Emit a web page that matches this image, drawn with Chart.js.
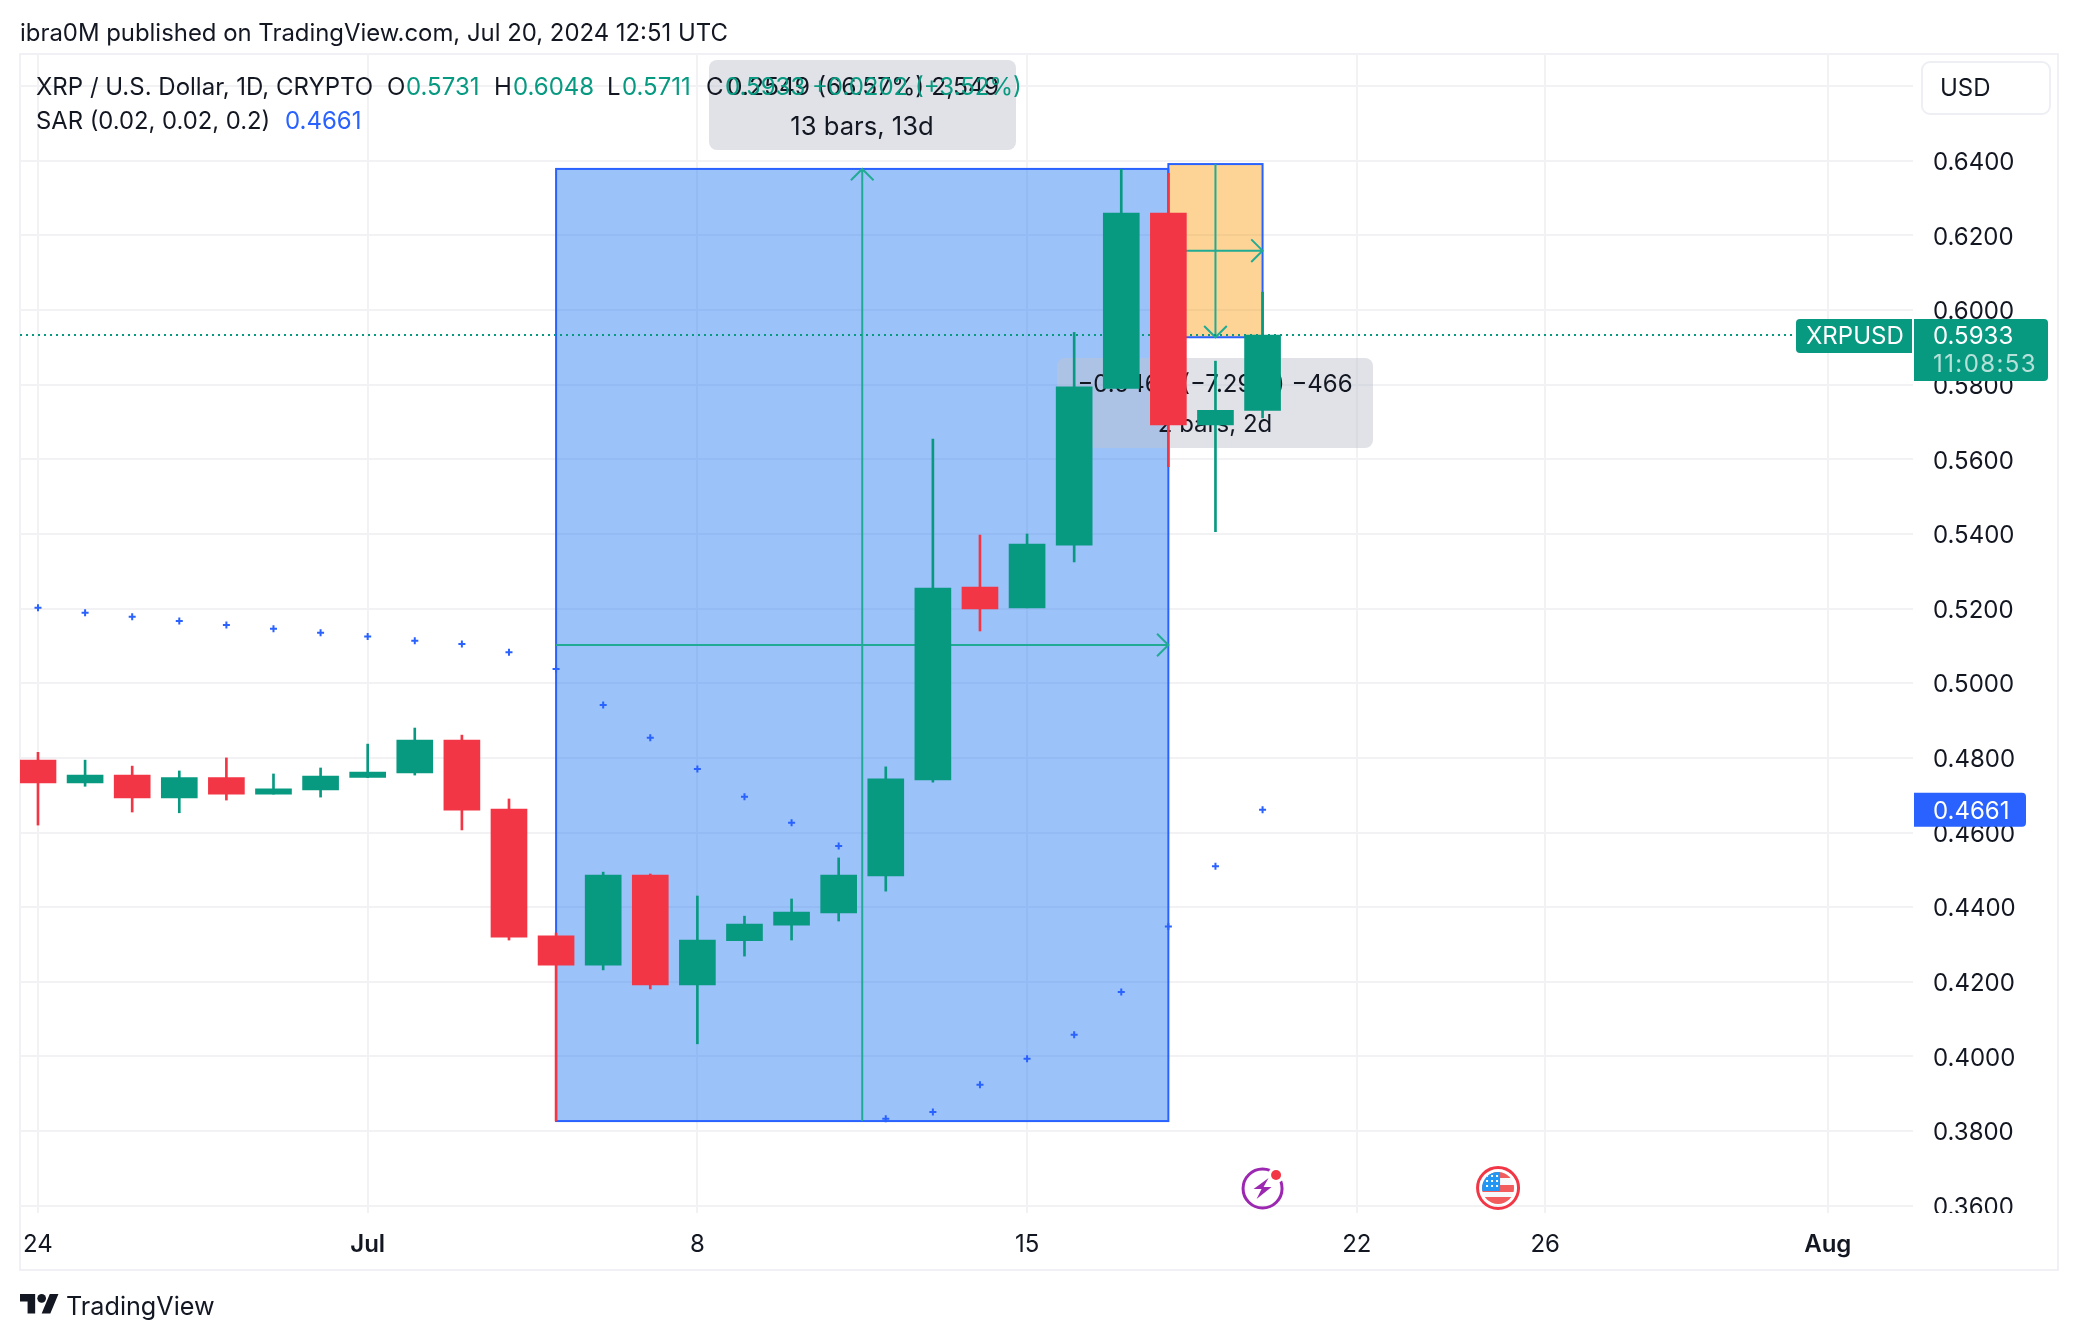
<!DOCTYPE html>
<html>
<head>
<meta charset="utf-8">
<title>XRPUSD</title>
<script src="https://cdn.jsdelivr.net/npm/chart.js@4"></script>
<style>
    html, body { margin: 0; padding: 0; background: #ffffff; }
    #wrap { width: 2078px; height: 1340px; position: relative; }
</style>
</head>
<body>
<div id="wrap"><canvas id="chart"></canvas></div>
<script>
// Дни от 24 июня (0) до 20 июля (26)
const days = [0, 1, 2, 3, 4, 5, 6, 7, 8, 9, 10, 11, 12, 13, 14, 15, 16, 17, 18, 19, 20, 21, 22, 23, 24, 25, 26];
const opens = [0.4794, 0.4733, 0.4754, 0.4693, 0.4747, 0.4703, 0.4714, 0.4748, 0.4760, 0.4848, 0.4663, 0.4323, 0.4245, 0.4486, 0.4192, 0.4310, 0.4352, 0.4385, 0.4484, 0.4741, 0.5258, 0.5202, 0.5370, 0.5790, 0.6260, 0.5692, 0.5731];
const highs = [0.4815, 0.4794, 0.4778, 0.4765, 0.4800, 0.4757, 0.4773, 0.4837, 0.4880, 0.4861, 0.4690, 0.4331, 0.4494, 0.4489, 0.4430, 0.4376, 0.4422, 0.4532, 0.4776, 0.5654, 0.5397, 0.5400, 0.5940, 0.6377, 0.6366, 0.5863, 0.6048];
const lows = [0.4620, 0.4724, 0.4655, 0.4653, 0.4687, 0.4703, 0.4695, 0.4747, 0.4754, 0.4607, 0.4312, 0.3827, 0.4232, 0.4181, 0.4034, 0.4269, 0.4312, 0.4363, 0.4443, 0.4735, 0.5140, 0.5202, 0.5325, 0.5790, 0.5580, 0.5406, 0.5711];
const closes = [0.4733, 0.4754, 0.4693, 0.4747, 0.4703, 0.4717, 0.4751, 0.4762, 0.4848, 0.4660, 0.4320, 0.4245, 0.4486, 0.4192, 0.4312, 0.4355, 0.4387, 0.4486, 0.4744, 0.5255, 0.5199, 0.5373, 0.5794, 0.6260, 0.5692, 0.5731, 0.5933];
const sarValues = [0.5202, 0.5189, 0.5178, 0.5167, 0.5156, 0.5146, 0.5135, 0.5125, 0.5114, 0.5105, 0.5083, 0.5038, 0.4942, 0.4854, 0.4770, 0.4696, 0.4626, 0.4564, 0.3833, 0.3851, 0.3924, 0.3994, 0.4058, 0.4173, 0.4348, 0.4510, 0.4661];

const priceTicks = [0.36, 0.38, 0.40, 0.42, 0.44, 0.46, 0.48, 0.50, 0.52, 0.54, 0.56, 0.58, 0.60, 0.62, 0.64, 0.66];
const dayTicks = [0, 7, 14, 21, 28, 32, 38];
const dayTickLabels = ["24", "Jul", "8", "15", "22", "26", "Aug"];

// Диапазоны: [день начала, день конца, цена низа, цена верха]
const blueRange = [11, 24, 0.3827, 0.6378];
const orangeRange = [24, 26, 0.5927, 0.6391];
const lastPrice = 0.5933;
const lastSar = 0.4661;
const eventDays = [26, 31];

const GREEN = "#089981";
const RED = "#F23645";
const BLUE = "#2962FF";
const TEAL = "#22AB94";
const INK = "#131722";
const GRID = "#F2F2F5";
const FONT = "Inter, 'Noto Sans', sans-serif";

function drawText(ctx, str, x, y, color, size, align) {
    ctx.fillStyle = color;
    ctx.font = size + "px " + FONT;
    ctx.textAlign = align || "left";
    ctx.textBaseline = "middle";
    ctx.fillText(str, x, y + 2);
}

function roundBox(ctx, x, y, w, h, r, fill, stroke) {
    ctx.beginPath();
    ctx.roundRect(x, y, w, h, r);
    if (fill) {
        ctx.fillStyle = fill;
        ctx.fill();
    }
    if (stroke) {
        ctx.strokeStyle = stroke;
        ctx.lineWidth = 2;
        ctx.stroke();
    }
}

function arrow(ctx, x1, y1, x2, y2) {
    const a = Math.atan2(y2 - y1, x2 - x1);
    const h = 16;
    ctx.strokeStyle = TEAL;
    ctx.lineWidth = 2;
    ctx.beginPath();
    ctx.moveTo(x1, y1);
    ctx.lineTo(x2, y2);
    ctx.moveTo(x2 - h * Math.cos(a - Math.PI / 4), y2 - h * Math.sin(a - Math.PI / 4));
    ctx.lineTo(x2, y2);
    ctx.lineTo(x2 - h * Math.cos(a + Math.PI / 4), y2 - h * Math.sin(a + Math.PI / 4));
    ctx.stroke();
}

function drawRange(ctx, range, fill, scales) {
    const x1 = scales.x.getPixelForValue(range[0]);
    const x2 = scales.x.getPixelForValue(range[1]);
    const y1 = scales.y.getPixelForValue(range[3]);
    const y2 = scales.y.getPixelForValue(range[2]);
    ctx.fillStyle = fill;
    ctx.fillRect(x1, y1, x2 - x1, y2 - y1);
    ctx.strokeStyle = BLUE;
    ctx.lineWidth = 2;
    ctx.strokeRect(x1, y1, x2 - x1, y2 - y1);
    return { x1, x2, y1, y2 };
}

// Рисуем всё, что лежит под свечами: рамку, диапазоны, подписи диапазонов
const underlayPlugin = {
    id: "underlay",
    beforeDraw(chart) {
        const ctx = chart.ctx;
        ctx.save();
        ctx.fillStyle = "#ffffff";
        ctx.fillRect(0, 0, 2078, 1340);
        ctx.strokeStyle = "#F0F0F5";
        ctx.lineWidth = 2;
        ctx.strokeRect(20, 54, 2038, 1216);
        ctx.restore();
    },
    beforeDatasetsDraw(chart) {
        const ctx = chart.ctx;
        const scales = chart.scales;
        ctx.save();

        // нижняя метка шкалы обрезана панелью времени
        ctx.fillStyle = "#ffffff";
        ctx.fillRect(1914, 1213, 136, 12);

        const b = drawRange(ctx, blueRange, "rgba(35, 119, 244, 0.45)", scales);
        arrow(ctx, (b.x1 + b.x2) / 2, b.y2, (b.x1 + b.x2) / 2, b.y1);
        arrow(ctx, b.x1, (b.y1 + b.y2) / 2, b.x2, (b.y1 + b.y2) / 2);

        const o = drawRange(ctx, orangeRange, "rgba(251, 152, 5, 0.42)", scales);
        arrow(ctx, (o.x1 + o.x2) / 2, o.y1, (o.x1 + o.x2) / 2, o.y2);
        arrow(ctx, o.x1, (o.y1 + o.y2) / 2, o.x2, (o.y1 + o.y2) / 2);

        roundBox(ctx, 709, 60, 307, 90, 8, "rgba(191, 196, 208, 0.485)");
        roundBox(ctx, 1057, 358, 316, 90, 8, "rgba(191, 196, 208, 0.485)");
        drawText(ctx, "0.2549 (66.57%) 2,549", 863, 86, INK, 24.6, "center");
        drawText(ctx, "13 bars, 13d", 862, 125, INK, 25.6, "center");
        drawText(ctx, "\u22120.0466 (\u22127.29%) \u2212466", 1215, 383, INK, 24, "center");
        drawText(ctx, "2 bars, 2d", 1215, 423, INK, 24, "center");

        // пунктир текущей цены
        const py = scales.y.getPixelForValue(lastPrice);
        ctx.strokeStyle = GREEN;
        ctx.lineWidth = 2;
        ctx.setLineDash([2, 4]);
        ctx.beginPath();
        ctx.moveTo(20, py);
        ctx.lineTo(1794, py);
        ctx.stroke();
        ctx.restore();
    },
    afterDatasetsDraw(chart) {
        const ctx = chart.ctx;
        const scales = chart.scales;
        ctx.save();

        drawText(ctx, "ibra0M published on TradingView.com, Jul 20, 2024 12:51 UTC", 20, 32, INK, 23.9);

        // легенда
        drawText(ctx, "XRP / U.S. Dollar, 1D, CRYPTO", 36, 86, INK, 24);
        drawText(ctx, "O", 387, 86, INK, 24);
        drawText(ctx, opens[26].toFixed(4), 406, 86, GREEN, 24);
        drawText(ctx, "H", 494, 86, INK, 24);
        drawText(ctx, highs[26].toFixed(4), 513, 86, GREEN, 24);
        drawText(ctx, "L", 607, 86, INK, 24);
        drawText(ctx, lows[26].toFixed(4), 622, 86, GREEN, 24);
        drawText(ctx, "C", 706, 86, INK, 24);
        drawText(ctx, closes[26].toFixed(4) + " +0.0202 (+3.52%)", 725, 86, GREEN, 24);
        drawText(ctx, "SAR (0.02, 0.02, 0.2)", 36, 120, INK, 23.8);
        drawText(ctx, lastSar.toFixed(4), 285, 120, BLUE, 24);

        // кнопка валюты
        roundBox(ctx, 1922, 62, 128, 52, 8, "#ffffff", "#EEEFF4");
        drawText(ctx, "USD", 1940, 87, INK, 24);

        // метки на шкале цены
        const py = scales.y.getPixelForValue(lastPrice);
        roundBox(ctx, 1796, py - 16, 116, 34, [4, 0, 0, 4], GREEN);
        drawText(ctx, "XRPUSD", 1806, py, "#ffffff", 24);
        roundBox(ctx, 1914, py - 16, 134, 62, [0, 4, 4, 0], GREEN);
        drawText(ctx, lastPrice.toFixed(4), 1933, py, "#ffffff", 24);
        ctx.letterSpacing = "1.4px";
        drawText(ctx, "11:08:53", 1933, py + 28, "rgba(255, 255, 255, 0.7)", 24);
        ctx.letterSpacing = "0px";

        const sy = scales.y.getPixelForValue(lastSar);
        roundBox(ctx, 1914, sy - 17, 112, 34, [0, 4, 4, 0], BLUE);
        drawText(ctx, lastSar.toFixed(4), 1933, sy, "#ffffff", 24);

        // значки событий
        const ex1 = scales.x.getPixelForValue(eventDays[0]);
        ctx.strokeStyle = "#9C27B0";
        ctx.lineWidth = 3;
        ctx.beginPath();
        ctx.arc(ex1, 1188.5, 19.5, 0, Math.PI * 2);
        ctx.stroke();
        ctx.fillStyle = "#ffffff";
        ctx.beginPath();
        ctx.arc(ex1 + 13.5, 1175, 8, 0, Math.PI * 2);
        ctx.fill();
        ctx.fillStyle = RED;
        ctx.beginPath();
        ctx.arc(ex1 + 13.5, 1175, 5, 0, Math.PI * 2);
        ctx.fill();
        ctx.fillStyle = "#9C27B0";
        ctx.beginPath();
        ctx.moveTo(ex1 + 6, 1178);
        ctx.lineTo(ex1 - 9, 1189);
        ctx.lineTo(ex1 - 1, 1189);
        ctx.lineTo(ex1 - 6, 1199);
        ctx.lineTo(ex1 + 9, 1187);
        ctx.lineTo(ex1 + 1, 1187);
        ctx.closePath();
        ctx.fill();

        const ex2 = scales.x.getPixelForValue(eventDays[1]);
        ctx.strokeStyle = RED;
        ctx.lineWidth = 3;
        ctx.beginPath();
        ctx.arc(ex2, 1188, 20.5, 0, Math.PI * 2);
        ctx.stroke();
        ctx.save();
        ctx.beginPath();
        ctx.arc(ex2, 1188, 16, 0, Math.PI * 2);
        ctx.clip();
        ctx.fillStyle = "#F7F8FA";
        ctx.fillRect(ex2 - 17, 1171, 34, 34);
        ctx.fillStyle = "#F25C5C";
        ctx.fillRect(ex2 - 17, 1172, 34, 6);
        ctx.fillRect(ex2 - 17, 1185, 34, 7);
        ctx.fillRect(ex2 - 17, 1197, 34, 8);
        ctx.fillStyle = "#2196F3";
        ctx.fillRect(ex2 - 17, 1171, 19, 20);
        ctx.fillStyle = "#ffffff";
        for (let i = 0; i < 3; i++) {
            for (let j = 0; j < 3; j++) {
                ctx.fillRect(ex2 - 12 + i * 5, 1175 + j * 5, 2, 2);
            }
        }
        ctx.restore();

        // подпись TradingView
        const logo = new Path2D("M14 22H7V11H0V4h14v18zM28 22h-8l7.5-18h8L28 22z");
        ctx.save();
        ctx.translate(20, 1289.7);
        ctx.scale(1.083, 1.083);
        ctx.fillStyle = INK;
        ctx.fill(logo);
        ctx.beginPath();
        ctx.arc(20, 8, 4, 0, Math.PI * 2);
        ctx.fill();
        ctx.restore();
        drawText(ctx, "TradingView", 66, 1305, INK, 25.2);
        ctx.restore();
    },
};

new Chart(document.getElementById("chart"), {
    type: "bar",
    data: {
        datasets: [
            {
                type: "line",
                label: "SAR",
                data: days.map((d, i) => ({ x: d, y: sarValues[i] })),
                showLine: false,
                pointStyle: "cross",
                pointRadius: 3.5,
                pointBorderWidth: 2,
                pointBorderColor: BLUE,
            },
            {
                label: "Тело",
                data: days.map((d, i) => ({ x: d, y: [opens[i], closes[i]] })),
                backgroundColor: days.map((d, i) => (closes[i] >= opens[i] ? GREEN : RED)),
                barThickness: 36,
                grouped: false,
            },
            {
                label: "Тень",
                data: days.map((d, i) => ({ x: d, y: [lows[i], highs[i]] })),
                backgroundColor: days.map((d, i) => (closes[i] >= opens[i] ? GREEN : RED)),
                barThickness: 2,
                grouped: false,
            },
        ],
    },
    options: {
        responsive: true,
        maintainAspectRatio: false,
        animation: false,
        events: [],
        layout: { padding: { left: 20, top: 54, right: 0, bottom: 0 } },
        plugins: {
            legend: { display: false },
            tooltip: { enabled: false },
        },
        scales: {
            x: {
                type: "linear",
                min: -0.382,
                max: 39.81,
                offset: false,
                afterBuildTicks(axis) {
                    axis.ticks = dayTicks.map((v) => ({ value: v }));
                },
                afterFit(axis) {
                    axis.height = 127;
                },
                grid: { color: GRID, lineWidth: 2, drawTicks: false, offset: false },
                border: { display: false },
                ticks: {
                    autoSkip: false,
                    maxRotation: 0,
                    padding: 17,
                    color: INK,
                    font: (c) => ({
                        family: FONT,
                        size: 24,
                        weight: c.tick && (c.tick.value === 7 || c.tick.value === 38) ? "600" : "400",
                    }),
                    callback: (v) => dayTickLabels[dayTicks.indexOf(v)],
                },
            },
            y: {
                position: "right",
                min: 0.35807,
                max: 0.66859,
                afterBuildTicks(axis) {
                    axis.ticks = priceTicks.map((v) => ({ value: v }));
                },
                afterFit(axis) {
                    axis.width = 165;
                },
                grid: { color: GRID, lineWidth: 2, drawTicks: false },
                border: { display: false },
                ticks: {
                    autoSkip: false,
                    padding: 20,
                    labelOffset: 2,
                    color: INK,
                    font: { family: FONT, size: 24 },
                    callback: (v) => v.toFixed(4),
                },
            },
        },
    },
    plugins: [underlayPlugin],
});
</script>
</body>
</html>
